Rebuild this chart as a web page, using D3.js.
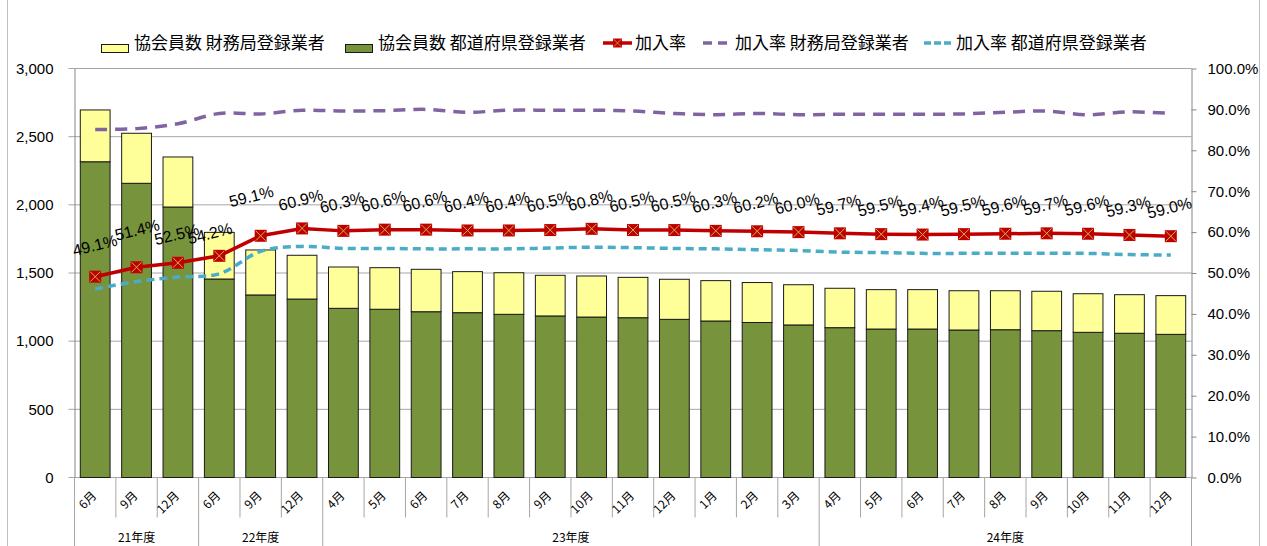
<!DOCTYPE html>
<html>
<head>
<meta charset="utf-8">
<script src="https://cdn.jsdelivr.net/npm/d3@7/dist/d3.min.js"></script>
<style>
  body { margin: 0; background: #fff; }
  text { font-family: "Liberation Sans", Arial, sans-serif; fill: #000; }
  .jp { font-family: "Noto Sans CJK JP", sans-serif; }
</style>
</head>
<body>
<script>
var months = ['6月', '9月', '12月', '6月', '9月', '12月', '4月', '5月', '6月', '7月', '8月', '9月', '10月', '11月', '12月', '1月', '2月', '3月', '4月', '5月', '6月', '7月', '8月', '9月', '10月', '11月', '12月'];
var fiscalYears = ['21年度', '22年度', '23年度', '24年度'];
var fiscalYearSpan = [3, 3, 12, 9];

// 協会員数（都道府県登録業者）
var prefMembers = [2316, 2158, 1984, 1456, 1339, 1309, 1241, 1234, 1216, 1209, 1197, 1185, 1177, 1172, 1160, 1148, 1137, 1119, 1099, 1089, 1089, 1082, 1084, 1077, 1065, 1058, 1050];
// 協会員数（財務局登録業者）
var fsaMembers = [380, 367, 367, 342, 330, 321, 303, 305, 311, 301, 305, 298, 301, 296, 294, 296, 293, 295, 289, 289, 289, 288, 286, 289, 283, 283, 284];
// 加入率
var rateTotal = [49.1, 51.4, 52.5, 54.2, 59.1, 60.9, 60.3, 60.6, 60.6, 60.4, 60.4, 60.5, 60.8, 60.5, 60.5, 60.3, 60.2, 60.0, 59.7, 59.5, 59.4, 59.5, 59.6, 59.7, 59.6, 59.3, 59.0];
var rateFsa = [85.1, 85.3, 86.5, 89.0, 88.9, 89.8, 89.6, 89.7, 90.0, 89.3, 89.8, 89.8, 89.8, 89.6, 89.0, 88.7, 89.0, 88.7, 88.8, 88.8, 88.8, 88.9, 89.3, 89.6, 88.7, 89.4, 89.0];
var ratePref = [46.1, 47.9, 49.0, 49.8, 55.3, 56.5, 56.0, 56.0, 55.9, 55.9, 55.9, 56.1, 56.3, 56.2, 56.0, 55.9, 55.7, 55.5, 55.1, 55.0, 54.8, 54.8, 54.8, 54.8, 54.8, 54.5, 54.4];

var legendLabels = ['協会員数 財務局登録業者', '協会員数 都道府県登録業者', '加入率', '加入率 財務局登録業者', '加入率 都道府県登録業者'];

// hand-moved data labels in the original (dx, dy in px), the rest sit above the marker
var labelNudge = { 0: [1, -3], 1: [2, -9], 3: [-8, 6], 4: [-8, -11] };

var W = 1267, H = 546;
var margin = { left: 74.5, right: 75.5, top: 68.5, bottom: 68.5 };
var width = W - margin.left - margin.right,
    height = H - margin.top - margin.bottom;

var x = d3.scaleBand().domain(d3.range(months.length)).range([0, width]).paddingInner(0.28).paddingOuter(0.14);
var y = d3.scaleLinear().domain([0, 3000]).range([height, 0]);
var yR = d3.scaleLinear().domain([0, 100]).range([height, 0]);
var step = x.step();
var cx = function(i) { return x(i) + x.bandwidth() / 2; };

var svg = d3.select('body').append('svg').attr('width', W).attr('height', H);

// chart frame
svg.append('rect').attr('x', 7.5).attr('y', -5).attr('width', 1252).attr('height', H + 10)
    .attr('fill', 'none').attr('stroke', '#BFBFBF');

var g = svg.append('g').attr('transform', 'translate(' + margin.left + ',' + margin.top + ')');

// gridlines
var yTicks = d3.range(0, 3001, 500);
g.append('g').selectAll('line').data(yTicks).enter().append('line')
    .attr('x1', -6).attr('x2', width)
    .attr('y1', function(d) { return y(d); }).attr('y2', function(d) { return y(d); })
    .attr('stroke', '#A6A6A6').attr('stroke-width', 1);

// stacked bars
var stack = d3.stack().keys(['pref', 'fsa'])(months.map(function(m, i) {
    return { pref: prefMembers[i], fsa: fsaMembers[i] };
}));
var barFill = ['#77933C', '#FFFF99'];
g.append('g').selectAll('g').data(stack).enter().append('g')
    .attr('fill', function(d, k) { return barFill[k]; })
    .selectAll('rect').data(function(d) { return d; }).enter().append('rect')
    .attr('x', function(d, i) { return x(i); })
    .attr('width', x.bandwidth())
    .attr('y', function(d) { return y(d[1]); })
    .attr('height', function(d) { return y(d[0]) - y(d[1]); })
    .attr('stroke', '#1a1a1a').attr('stroke-width', 1);

// axes
var yAxis = d3.axisLeft(y).tickValues(yTicks).tickFormat(d3.format(',')).tickSize(0).tickPadding(21);
var yAxisR = d3.axisRight(yR).tickValues(d3.range(0, 101, 10)).tickFormat(function(d) { return d.toFixed(1) + '%'; })
    .tickSize(5).tickSizeOuter(0).tickPadding(11);
var ga = g.append('g').call(yAxis);
ga.select('.domain').attr('stroke', '#868686');
ga.selectAll('text').attr('font-size', 15).attr('font-family', '"Liberation Sans", Arial, sans-serif');
var gr = g.append('g').attr('transform', 'translate(' + width + ',0)').call(yAxisR);
gr.select('.domain').attr('stroke', '#868686');
gr.selectAll('line').attr('stroke', '#868686');
gr.selectAll('text').attr('font-size', 15).attr('font-family', '"Liberation Sans", Arial, sans-serif');

// category axis: separators, month labels, fiscal-year labels
var groupStarts = [0];
fiscalYearSpan.forEach(function(n, k) { groupStarts.push(groupStarts[k] + n); });
var bounds = d3.range(months.length + 1);
g.append('g').selectAll('line').data(bounds).enter().append('line')
    .attr('x1', function(i) { return i * step; }).attr('x2', function(i) { return i * step; })
    .attr('y1', height)
    .attr('y2', function(i) { return groupStarts.indexOf(i) >= 0 ? H - margin.top : height + 40; })
    .attr('stroke', '#A6A6A6');

g.append('g').selectAll('text').data(months).enter().append('text')
    .attr('class', 'jp')
    .attr('font-size', 12)
    .attr('text-anchor', 'end')
    .attr('transform', function(d, i) { return 'translate(' + (cx(i) + 2) + ',' + (height + 19) + ') rotate(-45)'; })
    .text(function(d) { return d; });

g.append('g').selectAll('text').data(fiscalYears).enter().append('text')
    .attr('class', 'jp')
    .attr('font-size', 12)
    .attr('text-anchor', 'middle')
    .attr('x', function(d, k) { return (groupStarts[k] + groupStarts[k + 1]) / 2 * step; })
    .attr('y', height + 64)
    .text(function(d) { return d; });

// rate lines
var lineR = function(curve) {
    return d3.line().x(function(d, i) { return cx(i); }).y(function(d) { return yR(d); }).curve(curve);
};
g.append('path').attr('d', lineR(d3.curveCatmullRom.alpha(0.5))(ratePref))
    .attr('fill', 'none').attr('stroke', '#4BACC6').attr('stroke-width', 3.5).attr('stroke-dasharray', '8,5');
g.append('path').attr('d', lineR(d3.curveCatmullRom.alpha(0.5))(rateFsa))
    .attr('fill', 'none').attr('stroke', '#8064A2').attr('stroke-width', 3.5).attr('stroke-dasharray', '12,8');
g.append('path').attr('d', lineR(d3.curveLinear)(rateTotal))
    .attr('fill', 'none').attr('stroke', '#C00000').attr('stroke-width', 3.5);

function marker(sel) {
    sel.append('rect').attr('x', -6).attr('y', -6).attr('width', 12).attr('height', 12).attr('fill', '#C00000');
    sel.append('path').attr('d', 'M-5,-5L5,5M5,-5L-5,5').attr('stroke', '#C8B84A').attr('stroke-width', 1);
}
g.append('g').selectAll('g').data(rateTotal).enter().append('g')
    .attr('transform', function(d, i) { return 'translate(' + cx(i) + ',' + yR(d) + ')'; })
    .call(marker);

// data labels
g.append('g').selectAll('text').data(rateTotal).enter().append('text')
    .attr('font-size', 16)
    .attr('text-anchor', 'middle')
    .attr('transform', function(d, i) {
        var n = labelNudge[i] || [0, 0];
        return 'translate(' + (cx(i) + n[0]) + ',' + (yR(d) - 23 + n[1]) + ') rotate(-14)';
    })
    .text(function(d) { return d.toFixed(1) + '%'; });

// legend
var legendX = [101, 345, 603, 703, 924];
var lg = svg.append('g').selectAll('g').data(legendLabels).enter().append('g')
    .attr('transform', function(d, k) { return 'translate(' + legendX[k] + ',0)'; });
lg.append('text').attr('class', 'jp').attr('font-size', 17)
    .attr('x', function(d, k) { return k < 2 ? 33 : 32; }).attr('y', 49)
    .text(function(d) { return d; });
lg.filter(function(d, k) { return k < 2; }).append('rect')
    .attr('x', 0.5).attr('y', 44.5).attr('width', 27).attr('height', 8)
    .attr('fill', function(d, k) { return k === 0 ? '#FFFF99' : '#77933C'; })
    .attr('stroke', '#1a1a1a');
lg.filter(function(d, k) { return k >= 2; }).append('line')
    .attr('x1', 0).attr('x2', 29).attr('y1', 43).attr('y2', 43)
    .attr('stroke', function(d, k) { return ['#C00000', '#8064A2', '#4BACC6'][k]; })
    .attr('stroke-width', 3.5)
    .attr('stroke-dasharray', function(d, k) { return [null, '9,6', '7,3'][k]; });
lg.filter(function(d, k) { return k === 2; }).append('g')
    .attr('transform', 'translate(14.5,43) scale(0.75)')
    .call(marker);
</script>
</body>
</html>
